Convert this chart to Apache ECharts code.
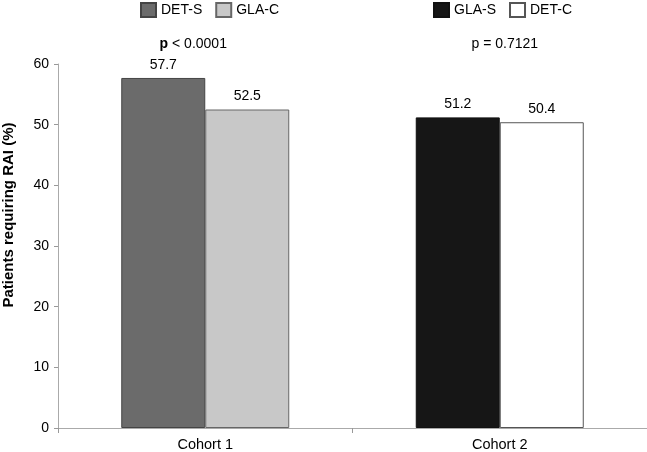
<!DOCTYPE html>
<html>
<head>
<meta charset="utf-8">
<script src="https://cdn.jsdelivr.net/npm/echarts@6/dist/echarts.min.js"></script>
<style>html,body{margin:0;padding:0;background:#fff;}#c{width:647px;height:452px;}</style>
</head>
<body>
<div id="c"></div>
<script>
var categories = ['Cohort 1', 'Cohort 2'];
var detS = [57.7, '-'];
var glaC = [52.5, '-'];
var glaS = ['-', 51.2];
var detC = ['-', 50.4];
var pValues = ['p < 0.0001', 'p = 0.7121'];
var yTicks = {min: 0, max: 60, interval: 10};
var yTitle = 'Patients requiring RAI (%)';

var font = 'Liberation Sans, Arial, sans-serif';
var chart = echarts.init(document.getElementById('c'));

function bar(name, data, stack, color, border) {
  return {
    name: name, type: 'bar', stack: stack, data: data,
    barWidth: 84, barGap: '0%',
    itemStyle: {color: color, borderColor: border, borderWidth: 1},
    label: {show: true, position: 'top', distance: 6, color: '#000', fontFamily: font, fontSize: 14,
      formatter: function (p) { return p.value.toFixed(1); }},
    emphasis: {disabled: true}, animation: false
  };
}

var legendCommon = {
  top: 2, itemWidth: 15, itemHeight: 14, itemGap: 13,
  textStyle: {fontFamily: font, fontSize: 14, color: '#000'},
  icon: 'rect', selectedMode: false, padding: 0
};

chart.setOption({
  backgroundColor: '#fff',
  animation: false,
  legend: [
    Object.assign({left: 140, data: ['DET-S', 'GLA-C']}, legendCommon),
    Object.assign({left: 433, data: ['GLA-S', 'DET-C']}, legendCommon)
  ],
  grid: {left: 58, right: 0, top: 64, bottom: 24, outerBoundsMode: 'none', containLabel: false},
  xAxis: {
    type: 'category', data: categories,
    axisLine: {lineStyle: {color: '#aaa'}},
    axisTick: {show: true, alignWithLabel: false, length: 5, lineStyle: {color: '#999'}},
    axisLabel: {color: '#000', fontFamily: font, fontSize: 14.5, margin: 9}
  },
  yAxis: {
    type: 'value', min: yTicks.min, max: yTicks.max, interval: yTicks.interval,
    axisLine: {show: true, lineStyle: {color: '#aaa'}},
    axisTick: {show: true, length: 4, lineStyle: {color: '#999'}},
    splitLine: {show: false},
    axisLabel: {color: '#000', fontFamily: font, fontSize: 14, margin: 9}
  },
  series: [
    bar('DET-S', detS, 'a', '#6b6b6b', '#444'),
    bar('GLA-C', glaC, 'b', '#c8c8c8', '#666'),
    bar('GLA-S', glaS, 'a', '#161616', '#111'),
    bar('DET-C', detC, 'b', '#ffffff', '#555')
  ]
});

// annotations: p-values above each cohort, y-axis title
var pOffsets = [-12, 5];
var gr = [];
categories.forEach(function (c, i) {
  var pt = chart.convertToPixel({xAxisIndex: 0}, c);
  var txt = pValues[i];
  var bold = i === 0;
  gr.push({
    type: 'text', x: pt + pOffsets[i], y: 44, silent: true,
    style: {
      text: bold ? '{b|p}{n|' + txt.slice(1) + '}' : txt,
      rich: {b: {fontWeight: 'bold', fontFamily: font, fontSize: 14, fill: '#000'}, n: {fontFamily: font, fontSize: 14, fill: '#000'}},
      fontFamily: font, fontSize: 14, fill: '#000',
      align: 'center', verticalAlign: 'middle'
    }
  });
});
gr.push({
  type: 'text', x: 9, y: 215, rotation: Math.PI / 2, silent: true,
  style: {text: yTitle, fontFamily: font, fontSize: 15, fontWeight: 'bold', fill: '#000', align: 'center', verticalAlign: 'middle'}
});
chart.setOption({graphic: gr});
</script>
</body>
</html>
